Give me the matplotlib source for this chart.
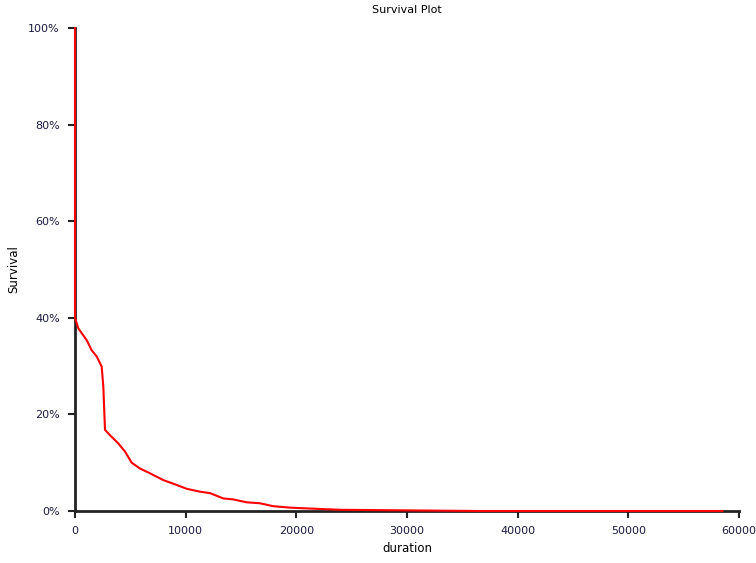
import numpy as np
import matplotlib
matplotlib.use("Agg")
import matplotlib.pyplot as plt
from matplotlib.ticker import PercentFormatter

# survival curve (duration, survival %)
duration = [0, 0, 300, 1050, 1500, 1960, 2410, 2560, 2710, 3160, 3910, 4520,
            5120, 5870, 6780, 7980, 9180, 10090, 11290, 12200, 13400, 14300,
            15500, 16710, 17900, 19420, 20330, 22400, 24000, 30500, 36500, 58500]
survival = [100, 40, 37.8, 35.4, 33.3, 32.0, 29.9, 25.7, 16.8, 15.7, 14.0, 12.3,
            10.0, 8.8, 7.8, 6.4, 5.4, 4.6, 4.0, 3.7, 2.6, 2.4,
            1.8, 1.6, 1.0, 0.7, 0.6, 0.4, 0.25, 0.12, 0.0, 0.0]

xticks = [0, 10000, 20000, 30000, 40000, 50000, 60000]
yticks = [0, 20, 40, 60, 80, 100]

fig = plt.figure(figsize=(7.56, 5.63), dpi=100)
ax = fig.add_axes([75/756, 1 - 511/563, 664/756, 483/563])

ax.plot(duration, survival, color="#ff0000", linewidth=1.5,
        clip_on=False, zorder=3)

ax.set_xlim(0, 60000)
ax.set_ylim(0, 100)
ax.set_xticks(xticks)
ax.set_yticks(yticks)
ax.yaxis.set_major_formatter(PercentFormatter(decimals=0))

for s in ["top", "right"]:
    ax.spines[s].set_visible(False)
for s in ["left", "bottom"]:
    ax.spines[s].set_linewidth(2)
    ax.spines[s].set_color("#222222")

ax.tick_params(axis="both", direction="out", length=5, width=1.5, color="#222222",
               labelsize=8, labelcolor="#1a1a40", pad=6)

ax.set_title("Survival Plot", fontsize=8, pad=11)
ax.set_xlabel("duration", fontsize=8.5)
ax.set_ylabel("Survival", fontsize=8.5)
ax.xaxis.set_label_coords(0.5, -0.077)
ax.yaxis.set_label_coords(-0.092, 0.5)
ax.xaxis.label.set_va("center")
ax.yaxis.label.set_va("center")

fig.savefig("out.png", dpi=100)
